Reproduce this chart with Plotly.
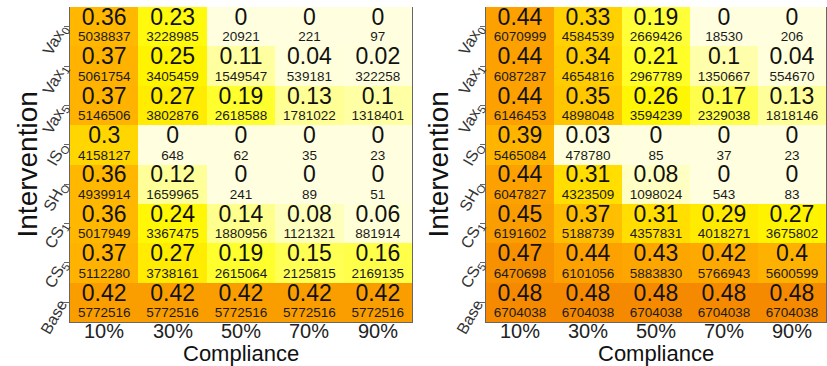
import plotly.graph_objects as go

compliance = ["10%", "30%", "50%", "70%", "90%"]
interventions = ["Vax<sub>0</sub>", "Vax<sub>1</sub>", "Vax<sub>5</sub>", "IS<sub>O</sub>",
                 "SH<sub>O</sub>", "CS<sub>1</sub>", "CS<sub>5</sub>", "Base"]

left_prop = [
    [0.36, 0.23, 0, 0, 0],
    [0.37, 0.25, 0.11, 0.04, 0.02],
    [0.37, 0.27, 0.19, 0.13, 0.1],
    [0.3, 0, 0, 0, 0],
    [0.36, 0.12, 0, 0, 0],
    [0.36, 0.24, 0.14, 0.08, 0.06],
    [0.37, 0.27, 0.19, 0.15, 0.16],
    [0.42, 0.42, 0.42, 0.42, 0.42],
]
left_count = [
    [5038837, 3228985, 20921, 221, 97],
    [5061754, 3405459, 1549547, 539181, 322258],
    [5146506, 3802876, 2618588, 1781022, 1318401],
    [4158127, 648, 62, 35, 23],
    [4939914, 1659965, 241, 89, 51],
    [5017949, 3367475, 1880956, 1121321, 881914],
    [5112280, 3738161, 2615064, 2125815, 2169135],
    [5772516, 5772516, 5772516, 5772516, 5772516],
]
right_prop = [
    [0.44, 0.33, 0.19, 0, 0],
    [0.44, 0.34, 0.21, 0.1, 0.04],
    [0.44, 0.35, 0.26, 0.17, 0.13],
    [0.39, 0.03, 0, 0, 0],
    [0.44, 0.31, 0.08, 0, 0],
    [0.45, 0.37, 0.31, 0.29, 0.27],
    [0.47, 0.44, 0.43, 0.42, 0.4],
    [0.48, 0.48, 0.48, 0.48, 0.48],
]
right_count = [
    [6070999, 4584539, 2669426, 18530, 206],
    [6087287, 4654816, 2967789, 1350667, 554670],
    [6146453, 4898048, 3594239, 2329038, 1818146],
    [5465084, 478780, 85, 37, 23],
    [6047827, 4323509, 1098024, 543, 83],
    [6191602, 5188739, 4357831, 4018271, 3675802],
    [6470698, 6101056, 5883830, 5766943, 5600599],
    [6704038, 6704038, 6704038, 6704038, 6704038],
]

colorscale = [
    [0.00, "#FFFFE0"], [0.14, "#FFFFD8"], [0.17, "#FFFFC2"], [0.22, "#FFFFA4"],
    [0.31, "#FFFF90"], [0.33, "#FFFF55"], [0.45, "#FFFF22"], [0.55, "#FFF500"],
    [0.62, "#FFE800"], [0.67, "#FFD500"], [0.75, "#FFC200"], [0.82, "#FFB300"],
    [0.90, "#FDA500"], [0.95, "#F99A00"], [1.00, "#F58A00"],
]

FONT = "Liberation Sans, Arial, sans-serif"
W, H = 827, 366

panels = [
    dict(prop=left_prop, count=left_count, zmax=0.45, x0=70, x1=412, title_x=27, ax=""),
    dict(prop=right_prop, count=right_count, zmax=0.48, x0=486, x1=826, title_x=438, ax="2"),
]
y_top, y_bot = 7, 322

fig = go.Figure()
annotations = []
layout = {}
for p in panels:
    xa = "x" + p["ax"]
    ya = "y" + p["ax"]
    nrow, ncol = len(interventions), len(compliance)
    fig.add_trace(go.Heatmap(
        z=p["prop"], x=list(range(ncol)), y=list(range(nrow)),
        colorscale=colorscale, zmin=0, zmax=p["zmax"], showscale=False,
        xaxis=xa, yaxis=ya, hoverinfo="skip",
    ))
    bx, by, bt, sx, sy, st = [], [], [], [], [], []
    for r in range(nrow):
        for c in range(ncol):
            bx.append(c); by.append(r - 0.19); bt.append(f"{p['prop'][r][c]:g}")
            sx.append(c); sy.append(r + 0.29); st.append(str(p["count"][r][c]))
    fig.add_trace(go.Scatter(x=bx, y=by, text=bt, mode="text", textposition="middle center",
                             textfont=dict(family=FONT, size=23, color="#111"),
                             xaxis=xa, yaxis=ya, showlegend=False, hoverinfo="skip"))
    fig.add_trace(go.Scatter(x=sx, y=sy, text=st, mode="text", textposition="middle center",
                             textfont=dict(family=FONT, size=13.5, color="#1a1a1a"),
                             xaxis=xa, yaxis=ya, showlegend=False, hoverinfo="skip"))
    dom_x = [p["x0"] / W, p["x1"] / W]
    dom_y = [(H - y_bot) / H, (H - y_top) / H]
    layout["xaxis" + p["ax"]] = dict(
        domain=dom_x, range=[-0.5, ncol - 0.5], tickvals=list(range(ncol)),
        showticklabels=False, showgrid=False, zeroline=False,
        showline=True, linecolor="#666", linewidth=1, ticks="", anchor=ya, automargin=False,
    )
    layout["yaxis" + p["ax"]] = dict(
        domain=dom_y, range=[nrow - 0.5, -0.5], tickvals=list(range(nrow)), ticktext=interventions,
        tickfont=dict(family=FONT, size=16, color="#333"), tickangle=-60, showgrid=False,
        zeroline=False, showline=True, mirror=True, linecolor="#666", linewidth=1,
        ticks="outside", ticklen=5, tickcolor="#666", anchor=xa, automargin=False,
    )
    for c, lab in enumerate(compliance):
        annotations.append(dict(text=lab, x=c, xref=xa, y=(H - 331) / H, yref="paper",
                                showarrow=False, xanchor="center", yanchor="middle",
                                font=dict(family=FONT, size=20, color="#222")))
    annotations.append(dict(text="Compliance", x=(p["x0"] + p["x1"]) / 2 / W, y=(H - 353) / H,
                            xref="paper", yref="paper", showarrow=False, xanchor="center",
                            yanchor="middle", font=dict(family=FONT, size=22, color="#111")))
    annotations.append(dict(text="Intervention", x=p["title_x"] / W, y=(H - (y_top + y_bot) / 2) / H,
                            xref="paper", yref="paper", showarrow=False, textangle=-90,
                            xanchor="center", yanchor="middle",
                            font=dict(family=FONT, size=28, color="#111")))

fig.update_layout(
    width=W, height=H, margin=dict(l=0, r=0, t=0, b=0),
    paper_bgcolor="white", plot_bgcolor="white", showlegend=False,
    annotations=annotations, **layout,
)
fig.write_html("out.html")
